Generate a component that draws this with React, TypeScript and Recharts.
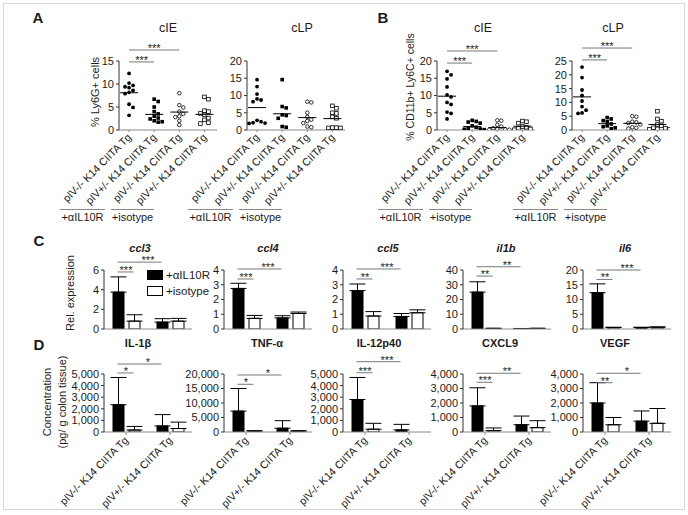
import {
  ScatterChart, Scatter, BarChart, Bar, XAxis, YAxis,
  ReferenceLine, ErrorBar, Legend,
} from 'recharts';

const FONT = 'Arial, "Liberation Sans", Helvetica, sans-serif';
const INK = '#1b1b1b';
const AXIS_Y = '#333';
const AXIS_X = '#8a8a8a';
const SIG_LINE = '#777';

const GENOTYPES = ['pIV-/- K14 CIITA Tg', 'pIV+/- K14 CIITA Tg', 'pIV-/- K14 CIITA Tg', 'pIV+/- K14 CIITA Tg'];
const BAR_GROUPS = ['pIV-/- K14 CIITA Tg', 'pIV+/- K14 CIITA Tg'];
const TREATMENTS = ['+αIL10R', '+isotype'];

// ---- A: % Ly6G+ cells, one list per mouse group ----
const ly6gCIE = [
  [12.3, 10.2, 9.7, 9.4, 9.2, 8.6, 8.2, 7.9, 5.6, 4.9, 3.2],
  [6.7, 6.2, 5.0, 4.0, 3.5, 3.0, 2.6, 2.4, 2.0, 1.8, 1.7],
  [8.0, 5.4, 4.9, 4.0, 3.5, 3.0, 2.8, 2.0, 1.1],
  [7.2, 6.7, 4.2, 4.0, 3.6, 3.3, 2.6, 2.2, 1.6, 1.4],
];
const ly6gCIEMean = [8.1, 3.4, 3.9, 3.4];
const ly6gCLP = [
  [14.6, 12.6, 10.4, 9.0, 8.7, 8.2, 2.8, 2.4, 2.1, 2.0, 1.9],
  [14.6, 6.8, 6.4, 4.4, 4.2, 3.4, 1.0, 0.8],
  [8.2, 8.0, 5.0, 3.8, 3.0, 2.6, 2.0, 1.0, 0.8],
  [7.0, 6.3, 5.0, 4.8, 3.8, 3.4, 0.7, 0.7, 0.6, 0.6],
];
const ly6gCLPMean = [6.5, 4.7, 3.6, 3.3];

// ---- B: % CD11b+ Ly6C+ cells ----
const ly6cCIE = [
  [17.0, 16.0, 14.8, 12.5, 10.2, 9.6, 8.0, 7.4, 5.2, 4.8, 3.2],
  [2.8, 2.5, 2.3, 2.0, 1.2, 0.8, 0.5, 0.3, 0.2, 0.1],
  [2.8, 2.7, 1.5, 1.0, 0.5, 0.3, 0.2, 0.1, 0.1],
  [2.6, 2.4, 2.0, 1.0, 0.8, 0.5, 0.3, 0.1],
];
const ly6cCIEMean = [9.8, 1.0, 0.7, 1.1];
const ly6cCLP = [
  [22.8, 19.0, 14.5, 12.5, 10.5, 8.5, 7.2, 6.2, 6.0],
  [4.5, 4.0, 3.4, 3.0, 2.2, 1.5, 1.2, 0.8, 0.5],
  [5.0, 4.8, 3.0, 2.8, 2.5, 2.0, 1.0, 0.8, 0.5],
  [6.8, 4.0, 3.2, 2.0, 1.5, 0.8, 0.6, 0.4, 0.3, 0.2],
];
const ly6cCLPMean = [12.0, 2.3, 2.4, 2.0];

// significance brackets: always start at group 0, end at group `to`
const ly6gCIESig = [{ to: 1, y: 14.8, label: '***' }, { to: 2, y: 17.4, label: '***' }];
const ly6cCIESig = [{ to: 1, y: 19.4, label: '***' }, { to: 2, y: 22.9, label: '***' }];
const ly6cCLPSig = [{ to: 1, y: 25.4, label: '***' }, { to: 2, y: 29.7, label: '***' }];

// ---- C: relative expression (bar height, top of error bar) ----
const ccl3Anti = [3.75, 0.7];  const ccl3AntiTop = [5.3, 1.05];
const ccl3Iso = [0.8, 0.8];    const ccl3IsoTop = [1.45, 1.08];
const ccl4Anti = [2.75, 0.75]; const ccl4AntiTop = [3.1, 0.9];
const ccl4Iso = [0.72, 1.05];  const ccl4IsoTop = [0.92, 1.15];
const ccl5Anti = [2.6, 0.85];  const ccl5AntiTop = [3.05, 1.05];
const ccl5Iso = [0.88, 1.1];   const ccl5IsoTop = [1.18, 1.3];
const il1bAnti = [25, 0.3];    const il1bAntiTop = [32, 0.35];
const il1bIso = [0.4, 0.4];    const il1bIsoTop = [0.5, 0.5];
const il6Anti = [12.3, 0.5];   const il6AntiTop = [15.3, 0.6];
const il6Iso = [0.5, 0.6];     const il6IsoTop = [0.6, 0.7];

// ---- D: concentration, pg / g colon tissue ----
const il1bConcAnti = [2350, 520];  const il1bConcAntiTop = [4700, 1500];
const il1bConcIso = [170, 300];    const il1bConcIsoTop = [480, 850];
const tnfAnti = [7200, 1300];      const tnfAntiTop = [15000, 3900];
const tnfIso = [300, 300];         const tnfIsoTop = [450, 450];
const il12Anti = [2800, 180];      const il12AntiTop = [4700, 660];
const il12Iso = [240, 0];          const il12IsoTop = [750, 0];
const cxcl9Anti = [1800, 500];     const cxcl9AntiTop = [3050, 1100];
const cxcl9Iso = [100, 300];       const cxcl9IsoTop = [280, 780];
const vegfAnti = [2000, 750];      const vegfAntiTop = [3400, 1450];
const vegfIso = [500, 600];        const vegfIsoTop = [1000, 1620];

// brackets start at the +aIL10R bar of group 0, end at 'iso' (same group) or 'anti1'
type BarSig = { to: 'iso' | 'anti1'; y: number; label: string };

// ---- layout ----
const DOT_TOP = 34, DOT_MT = 27, DOT_PH = 69, DOT_XH = 80, DOT_YW = 66, DOT_PW = 98;
const X_DOMAIN: [number, number] = [-0.4, 3.5];
const BAR_YW = 48, BAR_PW = 88, BAR_W = 11, BAR_GAP = 5;
const BAND = BAR_PW / 2;
// where recharts puts the two bars inside a band, relative to the band centre
const BAR_OFF = Math.floor((BAND - (2 * BAR_W + BAR_GAP)) / 2);
const ANTI_SHIFT = BAR_OFF + BAR_W / 2 - BAND / 2;
const ISO_SHIFT = ANTI_SHIFT + BAR_W + BAR_GAP;
const PANEL_X = [104, 224, 343, 463, 583];
const C_ROW = { top: 250, mt: 20, ph: 59, xh: 8, labels: false };
const D_ROW = { top: 352, mt: 22, ph: 58, xh: 78, labels: true };

const thousands = (v: number) => v.toLocaleString('en-US');

// simple beeswarm: spreads points sideways only where they would overlap
function swarm(values: number[], group: number, pxPerX: number, pxPerY: number) {
  const STEP = 4;
  const placed: { dx: number; py: number }[] = [];
  const pts: { x: number; y: number }[] = new Array(values.length);
  const order = values.map((_, i) => i).sort((a, b) => values[b] - values[a]);
  order.forEach((i) => {
    const py = values[i] * pxPerY;
    let dx = 0;
    for (let k = 0; k < 14; k++) {
      const cand = k === 0 ? 0 : (k % 2 ? 1 : -1) * Math.ceil(k / 2) * STEP;
      if (placed.every((p) => Math.hypot(p.dx - cand, p.py - py) >= STEP)) { dx = cand; break; }
    }
    placed.push({ dx, py });
    pts[i] = { x: group + dx / pxPerX, y: values[i] };
  });
  return pts;
}

const MARKERS = [
  (p: any) => <circle cx={p.cx} cy={p.cy} r={1.9} fill="#000" />,
  (p: any) => <rect x={p.cx - 1.8} y={p.cy - 1.8} width={3.6} height={3.6} fill="#000" />,
  (p: any) => <circle cx={p.cx} cy={p.cy} r={1.8} fill="#fff" stroke="#000" strokeWidth={0.8} />,
  (p: any) => <rect x={p.cx - 1.8} y={p.cy - 1.8} width={3.6} height={3.6} fill="#fff" stroke="#000" strokeWidth={0.8} />,
];
const meanLine = (p: any) => <line x1={p.cx - 9} x2={p.cx + 9} y1={p.cy} y2={p.cy} stroke="#000" strokeWidth={1} />;

function GenotypeTick(props: any) {
  const { x, y, payload } = props;
  const text = typeof payload.value === 'number' ? GENOTYPES[payload.value] : payload.value;
  const ax = x + 3, ay = y + 4;
  return (
    <text x={ax} y={ay} transform={`rotate(-45 ${ax} ${ay})`} textAnchor="end"
      fontSize={10.7} fill={INK} fontFamily={FONT}>{text}</text>
  );
}

const sigLabel = (text: string) => ({
  value: text, position: 'top' as const, offset: -2, fontSize: 11, fill: INK, fontFamily: FONT,
});

function DotPlot({ axisX, groups, means, yMax, ticks, sig }: {
  axisX: number; groups: number[][]; means: number[]; yMax: number; ticks: number[];
  sig: { to: number; y: number; label: string }[];
}) {
  const pxX = DOT_PW / (X_DOMAIN[1] - X_DOMAIN[0]);
  const pxY = DOT_PH / yMax;
  return (
    <div style={{ position: 'absolute', left: axisX - DOT_YW, top: DOT_TOP }}>
      <ScatterChart width={DOT_YW + DOT_PW + 8} height={DOT_MT + DOT_PH + DOT_XH}
        margin={{ top: DOT_MT, right: 8, bottom: 0, left: 0 }}>
        <XAxis type="number" dataKey="x" domain={X_DOMAIN} ticks={[0, 1, 2, 3]} interval={0}
          allowDataOverflow height={DOT_XH} tickSize={2} stroke={AXIS_X} tick={<GenotypeTick />} />
        <YAxis type="number" dataKey="y" domain={[0, yMax]} ticks={ticks} interval={0}
          allowDataOverflow width={DOT_YW} tickSize={3} stroke={AXIS_Y}
          tick={{ fontSize: 11, fill: INK, fontFamily: FONT }} />
        {groups.map((vals, g) => (
          <Scatter key={g} data={swarm(vals, g, pxX, pxY)} shape={MARKERS[g]} isAnimationActive={false} />
        ))}
        <Scatter data={means.map((m, g) => ({ x: g, y: m }))} shape={meanLine} isAnimationActive={false} />
        {sig.map((s, i) => (
          <ReferenceLine key={i} segment={[{ x: 0, y: s.y }, { x: s.to, y: s.y }]}
            stroke={SIG_LINE} strokeWidth={1} ifOverflow="visible" label={sigLabel(s.label)} />
        ))}
      </ScatterChart>
    </div>
  );
}

const TREATMENT_FILL: Record<string, string> = { '+αIL10R': '#000', '+isotype': '#fff' };

function LegendBox(props: any) {
  const items = [...(props.payload ?? [])].sort(
    (a: any, b: any) => TREATMENTS.indexOf(a.value) - TREATMENTS.indexOf(b.value),
  );
  return (
    <div style={{ fontFamily: FONT, fontSize: 11.5, color: INK }}>
      {items.map((it: any) => (
        <div key={it.value} style={{ display: 'flex', alignItems: 'center', height: 16 }}>
          <span style={{
            display: 'inline-block', width: 16, height: 10, boxSizing: 'border-box',
            background: TREATMENT_FILL[it.value] ?? '#fff', border: '1.3px solid #000', marginRight: 3,
          }} />
          <span>{it.value}</span>
        </div>
      ))}
    </div>
  );
}

// bracket drawn from the band centres recharts gives, moved onto the bar centres
const bracketShape = (toIso: boolean) => (p: any) => (
  <line x1={p.x1 + ANTI_SHIFT} x2={p.x2 + (toIso ? ISO_SHIFT : ANTI_SHIFT)} y1={p.y1} y2={p.y2}
    stroke={SIG_LINE} strokeWidth={1} />
);

function BarPanel({ axisX, row, anti, antiTop, iso, isoTop, yMax, ticks, sig, fmt, legend }: {
  axisX: number; row: typeof C_ROW; anti: number[]; antiTop: number[]; iso: number[]; isoTop: number[];
  yMax: number; ticks: number[]; sig: BarSig[]; fmt?: (v: number) => string; legend?: boolean;
}) {
  const data = BAR_GROUPS.map((grp, i) => ({
    grp,
    anti: anti[i], antiErr: [0, antiTop[i] - anti[i]],
    iso: iso[i], isoErr: [0, isoTop[i] - iso[i]],
  }));
  return (
    <div style={{ position: 'absolute', left: axisX - BAR_YW, top: row.top }}>
      <BarChart width={BAR_YW + BAR_PW + 6} height={row.mt + row.ph + row.xh} data={data}
        margin={{ top: row.mt, right: 6, bottom: 0, left: 0 }} barGap={BAR_GAP}>
        <XAxis dataKey="grp" interval={0} height={row.xh} tickSize={3} stroke={AXIS_X}
          tick={row.labels ? <GenotypeTick /> : false} />
        <YAxis domain={[0, yMax]} ticks={ticks} interval={0} allowDataOverflow width={BAR_YW}
          tickSize={3} stroke={AXIS_Y} tickFormatter={fmt}
          tick={{ fontSize: 11, fill: INK, fontFamily: FONT }} />
        <Bar dataKey="anti" name={TREATMENTS[0]} fill="#000" stroke="#000" barSize={BAR_W} isAnimationActive={false}>
          <ErrorBar dataKey="antiErr" direction="y" width={8} stroke="#000" strokeWidth={1} />
        </Bar>
        <Bar dataKey="iso" name={TREATMENTS[1]} fill="#fff" stroke="#000" barSize={BAR_W} isAnimationActive={false}>
          <ErrorBar dataKey="isoErr" direction="y" width={8} stroke="#000" strokeWidth={1} />
        </Bar>
        {sig.map((s, i) => (
          <ReferenceLine key={i}
            segment={[{ x: BAR_GROUPS[0], y: s.y }, { x: BAR_GROUPS[s.to === 'iso' ? 0 : 1], y: s.y }]}
            shape={bracketShape(s.to === 'iso')} ifOverflow="visible" label={sigLabel(s.label)} />
        ))}
        {legend && (
          <Legend layout="vertical" align="center" verticalAlign="middle" content={LegendBox}
            wrapperStyle={{ left: 91, top: 17, width: 90, height: 34 }} />
        )}
      </BarChart>
    </div>
  );
}

const DOT_TITLES = [
  { x: 168, text: 'cIE' }, { x: 302, text: 'cLP' }, { x: 483, text: 'cIE' }, { x: 613, text: 'cLP' },
];
const DOT_AXES = [119, 247, 437, 572];
const C_TITLES = [{ x: 140, t: 'ccl3' }, { x: 268, t: 'ccl4' }, { x: 388, t: 'ccl5' }, { x: 506, t: 'il1b' }, { x: 625, t: 'il6' }];
const D_TITLES = [{ x: 138, t: 'IL-1β' }, { x: 267, t: 'TNF-α' }, { x: 379, t: 'IL-12p40' }, { x: 500, t: 'CXCL9' }, { x: 615, t: 'VEGF' }];

function vText(x: number, y: number, text: string, size = 11) {
  return (
    <text x={x} y={y} dy="0.35em" textAnchor="middle" fontSize={size} transform={`rotate(-90 ${x} ${y})`}>{text}</text>
  );
}

function Overlay() {
  return (
    <svg width={688} height={515} style={{ position: 'absolute', left: 0, top: 0, pointerEvents: 'none' }}
      fontFamily={FONT} fill={INK}>
      <rect x={3.5} y={3.5} width={681} height={506} fill="none" stroke="#d8d8d8" />
      <text x={38} y={23} fontSize={15} fontWeight="bold" textAnchor="middle">A</text>
      <text x={383} y={23} fontSize={15} fontWeight="bold" textAnchor="middle">B</text>
      <text x={39} y={246} fontSize={15} fontWeight="bold" textAnchor="middle">C</text>
      <text x={39} y={350} fontSize={15} fontWeight="bold" textAnchor="middle">D</text>
      {DOT_TITLES.map((t, i) => (
        <text key={i} x={t.x} y={31.5} fontSize={12.5} textAnchor="middle">{t.text}</text>
      ))}
      {vText(95, 92, '% Ly6G+ cells')}
      {vText(410, 87, '% CD11b+ Ly6C+ cells', 10.5)}
      {vText(70, 293, 'Rel. expression')}
      {vText(47, 402, 'Concentration')}
      {vText(62, 402, '(pg/ g colon tissue)')}
      {DOT_AXES.map((ax) => (
        <g key={ax}>
          <line x1={ax - 59} x2={ax - 14} y1={209.5} y2={209.5} stroke={AXIS_X} />
          <line x1={ax - 8} x2={ax + 35} y1={209.5} y2={209.5} stroke={AXIS_X} />
          <text x={ax - 36.5} y={221} fontSize={11} textAnchor="middle">{TREATMENTS[0]}</text>
          <text x={ax + 13.5} y={221} fontSize={11} textAnchor="middle">{TREATMENTS[1]}</text>
        </g>
      ))}
      {C_TITLES.map((t) => (
        <text key={t.t} x={t.x} y={252} fontSize={11} fontWeight="bold" fontStyle="italic" textAnchor="middle">{t.t}</text>
      ))}
      {D_TITLES.map((t) => (
        <text key={t.t} x={t.x} y={347} fontSize={11} fontWeight="bold" textAnchor="middle">{t.t}</text>
      ))}
    </svg>
  );
}

export default function App() {
  return (
    <div style={{ position: 'relative', width: 688, height: 515, background: '#fff', fontFamily: FONT }}>
      <style>{'body{margin:0}'}</style>
      <Overlay />
      <DotPlot axisX={DOT_AXES[0]} groups={ly6gCIE} means={ly6gCIEMean} yMax={15} ticks={[0, 5, 10, 15]} sig={ly6gCIESig} />
      <DotPlot axisX={DOT_AXES[1]} groups={ly6gCLP} means={ly6gCLPMean} yMax={20} ticks={[0, 5, 10, 15, 20]} sig={[]} />
      <DotPlot axisX={DOT_AXES[2]} groups={ly6cCIE} means={ly6cCIEMean} yMax={20} ticks={[0, 5, 10, 15, 20]} sig={ly6cCIESig} />
      <DotPlot axisX={DOT_AXES[3]} groups={ly6cCLP} means={ly6cCLPMean} yMax={25} ticks={[0, 5, 10, 15, 20, 25]} sig={ly6cCLPSig} />

      <BarPanel axisX={PANEL_X[0]} row={C_ROW} anti={ccl3Anti} antiTop={ccl3AntiTop} iso={ccl3Iso} isoTop={ccl3IsoTop}
        yMax={6} ticks={[0, 2, 4, 6]} legend
        sig={[{ to: 'iso', y: 5.8, label: '***' }, { to: 'anti1', y: 6.8, label: '***' }]} />
      <BarPanel axisX={PANEL_X[1]} row={C_ROW} anti={ccl4Anti} antiTop={ccl4AntiTop} iso={ccl4Iso} isoTop={ccl4IsoTop}
        yMax={4} ticks={[0, 1, 2, 3, 4]}
        sig={[{ to: 'iso', y: 3.39, label: '***' }, { to: 'anti1', y: 4.07, label: '***' }]} />
      <BarPanel axisX={PANEL_X[2]} row={C_ROW} anti={ccl5Anti} antiTop={ccl5AntiTop} iso={ccl5Iso} isoTop={ccl5IsoTop}
        yMax={4} ticks={[0, 1, 2, 3, 4]}
        sig={[{ to: 'iso', y: 3.39, label: '**' }, { to: 'anti1', y: 4.07, label: '***' }]} />
      <BarPanel axisX={PANEL_X[3]} row={C_ROW} anti={il1bAnti} antiTop={il1bAntiTop} iso={il1bIso} isoTop={il1bIsoTop}
        yMax={40} ticks={[0, 10, 20, 30, 40]}
        sig={[{ to: 'iso', y: 35.9, label: '**' }, { to: 'anti1', y: 42.2, label: '**' }]} />
      <BarPanel axisX={PANEL_X[4]} row={C_ROW} anti={il6Anti} antiTop={il6AntiTop} iso={il6Iso} isoTop={il6IsoTop}
        yMax={20} ticks={[0, 5, 10, 15, 20]}
        sig={[{ to: 'iso', y: 16.8, label: '**' }, { to: 'anti1', y: 20, label: '***' }]} />

      <BarPanel axisX={PANEL_X[0]} row={D_ROW} anti={il1bConcAnti} antiTop={il1bConcAntiTop} iso={il1bConcIso} isoTop={il1bConcIsoTop}
        yMax={5000} ticks={[0, 1000, 2000, 3000, 4000, 5000]} fmt={thousands}
        sig={[{ to: 'iso', y: 5090, label: '*' }, { to: 'anti1', y: 5860, label: '*' }]} />
      <BarPanel axisX={PANEL_X[1]} row={D_ROW} anti={tnfAnti} antiTop={tnfAntiTop} iso={tnfIso} isoTop={tnfIsoTop}
        yMax={20000} ticks={[0, 5000, 10000, 15000, 20000]} fmt={thousands}
        sig={[{ to: 'iso', y: 16450, label: '*' }, { to: 'anti1', y: 19650, label: '*' }]} />
      <BarPanel axisX={PANEL_X[2]} row={D_ROW} anti={il12Anti} antiTop={il12AntiTop} iso={il12Iso} isoTop={il12IsoTop}
        yMax={5000} ticks={[0, 1000, 2000, 3000, 4000, 5000]} fmt={thousands}
        sig={[{ to: 'iso', y: 5110, label: '***' }, { to: 'anti1', y: 6060, label: '***' }]} />
      <BarPanel axisX={PANEL_X[3]} row={D_ROW} anti={cxcl9Anti} antiTop={cxcl9AntiTop} iso={cxcl9Iso} isoTop={cxcl9IsoTop}
        yMax={4000} ticks={[0, 1000, 2000, 3000, 4000]} fmt={thousands}
        sig={[{ to: 'iso', y: 3430, label: '***' }, { to: 'anti1', y: 4050, label: '**' }]} />
      <BarPanel axisX={PANEL_X[4]} row={D_ROW} anti={vegfAnti} antiTop={vegfAntiTop} iso={vegfIso} isoTop={vegfIsoTop}
        yMax={4000} ticks={[0, 1000, 2000, 3000, 4000]} fmt={thousands}
        sig={[{ to: 'iso', y: 3400, label: '**' }, { to: 'anti1', y: 4050, label: '*' }]} />
    </div>
  );
}
